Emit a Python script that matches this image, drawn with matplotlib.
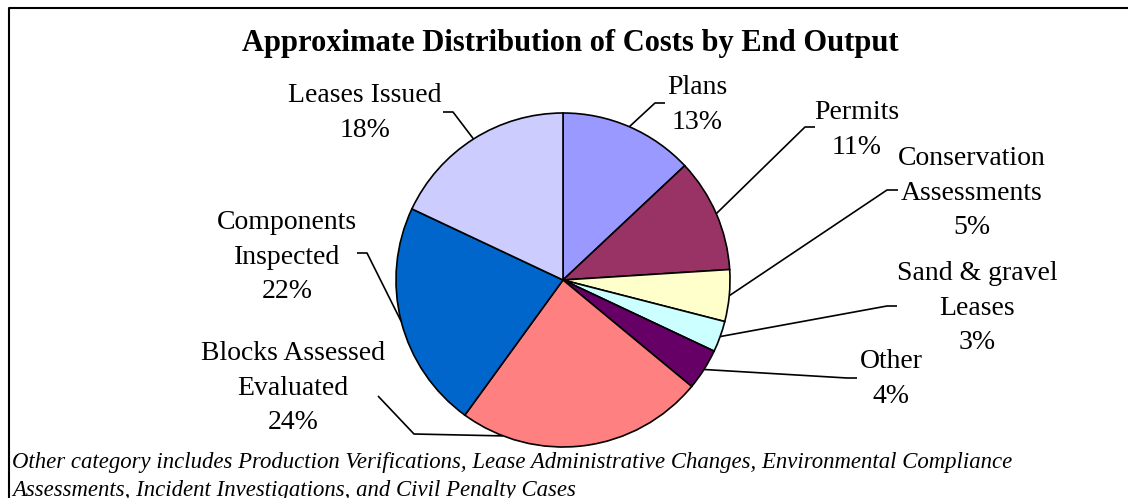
import numpy as np
import matplotlib
matplotlib.use("Agg")
import matplotlib.pyplot as plt

plt.rcParams['font.family'] = ['Liberation Serif', 'DejaVu Serif']

# data
categories = ["Plans", "Permits", "Conservation\nAssessments", "Sand & gravel\nLeases",
              "Other", "Blocks Assessed\nEvaluated", "Components\nInspected", "Leases Issued"]
shares = [13, 11, 5, 3, 4, 24, 22, 18]
colors = ["#9999FF", "#993366", "#FFFFCC", "#CCFFFF", "#660066", "#FF8080", "#0066CC", "#CCCCFF"]

title = "Approximate Distribution of Costs by End Output"
note = ("Other category includes Production Verifications, Lease Administrative Changes, Environmental Compliance\n"
        "Assessments, Incident Investigations, and Civil Penalty Cases")

# layout, in pixels measured from the top left corner
W, H = 1128, 498
cx, cy, rad = 563, 280, 167
label_pos = [(697, 105), (857, 130), (972, 193), (977, 308), (891, 379), (293, 388), (287, 257), (365, 113)]
elbows = [(655, 103), (805, 127), (887, 190), (887, 306), (847, 378), (414, 434), (367, 253), (453, 112)]
tick_ends = [(665, 103), (815, 127), (898, 190), (897, 306), (857, 378), (378, 396), (357, 253), (443, 112)]
anchor_fix = {5: -111}   # leader of Blocks hits the rim off the slice middle


def flip(p):
    return p[0], H - p[1]


fig = plt.figure(figsize=(W / 100, H / 100), dpi=100)
ax = fig.add_axes([0, 0, 1, 1])

wedges, _ = ax.pie(shares, colors=colors, startangle=90, counterclock=False,
                   center=(cx, H - cy), radius=rad,
                   wedgeprops=dict(edgecolor='black', linewidth=1.2))
ax.set_xlim(0, W)
ax.set_ylim(0, H)
ax.set_aspect('auto')
ax.axis('off')

for i, w in enumerate(wedges):
    ang = anchor_fix.get(i, (w.theta1 + w.theta2) / 2)
    ax_ = cx + rad * np.cos(np.radians(ang))
    ay_ = (H - cy) + rad * np.sin(np.radians(ang))
    ex, ey = flip(elbows[i])
    tx, ty = flip(tick_ends[i])
    ax.plot([ax_, ex, tx], [ay_, ey, ty], color='black', lw=1.2, solid_capstyle='butt')
    lx, ly = flip(label_pos[i])
    ax.text(lx, ly, f"{categories[i]}\n{shares[i]}%", ha='center', va='center',
            fontsize=20, linespacing=1.49)

ax.text(570, H - 43, title, ha='center', va='center', fontsize=22, fontweight='bold')
ax.text(12, H - 476.5, note, ha='left', va='center', fontsize=16.4, style='italic', linespacing=1.48)

# frame around the chart area
ax.plot([8.5, 8.5, W], [0, H - 7.5, H - 7.5], color='black', lw=1.5, clip_on=False)

fig.savefig("out.png", dpi=100)
